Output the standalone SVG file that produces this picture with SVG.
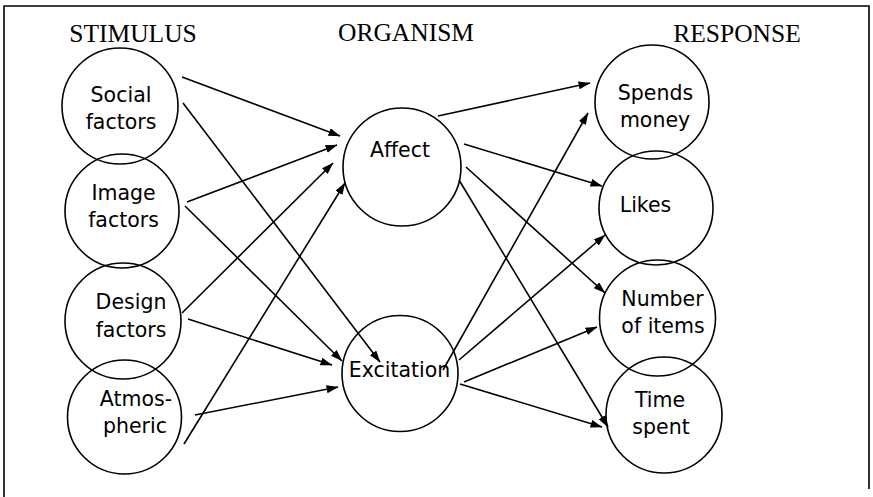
<svg xmlns="http://www.w3.org/2000/svg" width="873" height="497" viewBox="0 0 873 497">
<style>
.bg{fill:#fff}
.frame{fill:none;stroke:#000;stroke-width:1.6}
.node circle{fill:none;stroke:#000;stroke-width:1.6}
.head{font-family:"Liberation Serif","Times New Roman",serif;font-size:25.5px;text-anchor:middle;fill:#000}
.lbl{font-family:"DejaVu Sans",sans-serif;font-size:20.5px;text-anchor:middle;fill:#000}
#connectors line{stroke:#000;stroke-width:1.6;marker-end:url(#arr)}
</style>
<defs>
<marker id="arr" markerUnits="userSpaceOnUse" markerWidth="12" markerHeight="9" refX="11.5" refY="4" orient="auto">
<path d="M0,0 L12,4 L0,8 z" fill="#000"/>
</marker>
</defs>
<rect class="bg" x="0" y="0" width="873" height="497"/>
<path class="frame" d="M4,497 V6 H869 V489"/>
<text class="head" x="133" y="42">STIMULUS</text>
<text class="head" x="406" y="41">ORGANISM</text>
<text class="head" x="737" y="42">RESPONSE</text>
<g id="social" class="node"><circle cx="120" cy="106" r="58"/><text class="lbl" x="121" y="102">Social</text><text class="lbl" x="121" y="129">factors</text></g>
<g id="image" class="node"><circle cx="122" cy="211" r="57"/><text class="lbl" x="123.5" y="200">Image</text><text class="lbl" x="123.5" y="227">factors</text></g>
<g id="design" class="node"><circle cx="123" cy="321" r="58"/><text class="lbl" x="131" y="309">Design</text><text class="lbl" x="131" y="337">factors</text></g>
<g id="atmospheric" class="node"><circle cx="124.5" cy="417" r="57"/><text class="lbl" x="136" y="406">Atmos-</text><text class="lbl" x="135" y="433">pheric</text></g>
<g id="affect" class="node"><circle cx="402" cy="167" r="59"/><text class="lbl" x="400" y="157">Affect</text></g>
<g id="excitation" class="node"><circle cx="400" cy="373.5" r="58"/><text class="lbl" x="399.5" y="377">Excitation</text></g>
<g id="spends" class="node"><circle cx="652" cy="102" r="57"/><text class="lbl" x="655.5" y="100">Spends</text><text class="lbl" x="655" y="127">money</text></g>
<g id="likes" class="node"><circle cx="656" cy="208" r="57"/><text class="lbl" x="645.5" y="212">Likes</text></g>
<g id="number" class="node"><circle cx="657.5" cy="318" r="58"/><text class="lbl" x="662.5" y="306">Number</text><text class="lbl" x="663" y="333">of items</text></g>
<g id="time" class="node"><circle cx="664" cy="415" r="58"/><text class="lbl" x="660" y="407">Time</text><text class="lbl" x="661" y="434">spent</text></g>
<g id="connectors">
<line x1="182" y1="77" x2="340" y2="136"/>
<line x1="183" y1="103" x2="380" y2="362"/>
<line x1="187" y1="202" x2="337" y2="145"/>
<line x1="185" y1="206" x2="342" y2="361"/>
<line x1="182" y1="313" x2="333" y2="163"/>
<line x1="188" y1="319" x2="332" y2="365"/>
<line x1="184" y1="444" x2="345" y2="183"/>
<line x1="195" y1="415" x2="338" y2="387"/>
<line x1="438" y1="116" x2="590" y2="83"/>
<line x1="464" y1="144" x2="602" y2="186"/>
<line x1="466" y1="167" x2="605" y2="293"/>
<line x1="459" y1="180" x2="608" y2="427"/>
<line x1="443" y1="370" x2="588" y2="113"/>
<line x1="459" y1="360" x2="605" y2="235"/>
<line x1="464" y1="382" x2="597" y2="327"/>
<line x1="460" y1="384" x2="602" y2="427"/>
</g>
</svg>
